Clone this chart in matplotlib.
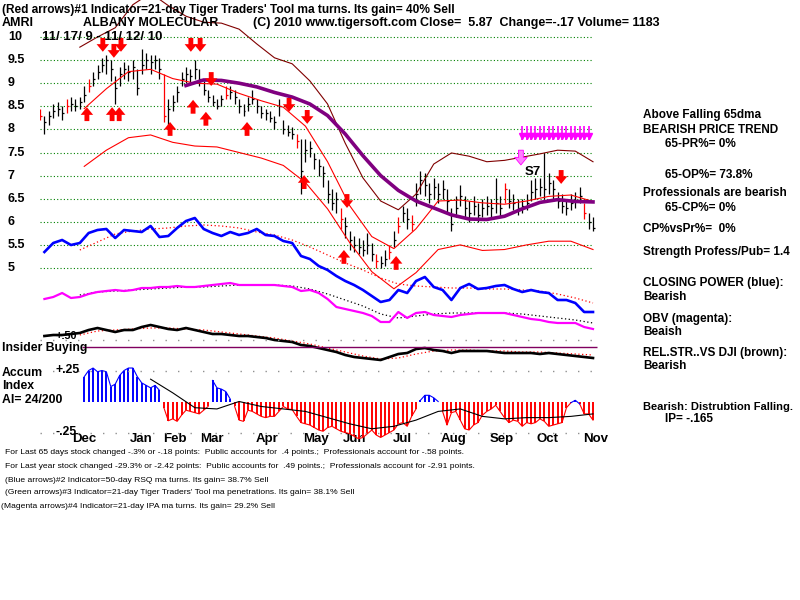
import numpy as np
import matplotlib.pyplot as plt
from matplotlib.transforms import blended_transform_factory

plt.rcParams['font.family'] = ['Liberation Sans', 'DejaVu Sans']

# price bars, one bar every 2 trading days, 11/17/09 .. 11/12/10
closes = [8.3, 8.15, 8.3, 8.4, 8.45, 8.35, 8.5, 8.55, 8.5, 8.6,
          8.75, 8.95, 9.1, 9.25, 9.4, 9.5, 9.3, 8.9, 9.2, 9.3,
          9.25, 9.35, 8.9, 9.4, 9.5, 9.45, 9.5, 9.3, 8.3, 8.45,
          8.6, 8.8, 9.1, 9.2, 9.15, 9.3, 9.1, 8.85, 8.7, 8.6,
          8.5, 8.65, 8.75, 8.8, 8.7, 8.5, 8.4, 8.55, 8.65, 8.5,
          8.35, 8.35, 8.25, 8.15, 8.5, 8.0, 7.95, 7.9, 7.75, 7.1,
          7.55, 7.6, 7.35, 7.2, 7.05, 6.6, 6.4, 6.5, 6.05, 5.9,
          5.6, 5.5, 5.45, 5.4, 5.5, 5.3, 5.15, 5.1, 5.2, 5.35,
          5.6, 5.9, 6.2, 6.05, 5.95, 6.6, 6.9, 6.8, 6.6, 6.75,
          6.6, 6.7, 6.45, 5.95, 6.3, 6.55, 6.3, 6.2, 6.35, 6.15,
          6.3, 6.35, 6.3, 6.4, 6.3, 6.7, 6.45, 6.4, 6.3, 6.35,
          6.4, 6.65, 6.7, 6.75, 6.7, 6.85, 6.7, 6.45, 6.35, 6.3,
          6.4, 6.45, 6.55, 6.2, 6.0, 5.87]
highs = [8.45, 8.3, 8.4, 8.55, 8.6, 8.5, 8.65, 8.7, 8.65, 8.7,
         8.95, 9.1, 9.25, 9.4, 9.55, 9.6, 9.5, 9.15, 9.35, 9.45,
         9.4, 9.5, 9.3, 9.75, 9.65, 9.6, 9.6, 9.55, 9.2, 8.65,
         8.75, 8.95, 9.25, 9.35, 9.3, 9.5, 9.3, 9.05, 8.85, 8.75,
         8.65, 8.75, 8.95, 8.95, 8.85, 8.65, 8.55, 8.7, 8.85, 8.65,
         8.5, 8.45, 8.4, 8.3, 8.65, 8.2, 8.1, 8.05, 7.9, 7.8,
         7.8, 7.75, 7.5, 7.35, 7.2, 6.9, 6.7, 6.65, 6.3, 6.1,
         5.8, 5.7, 5.65, 5.6, 5.75, 5.55, 5.3, 5.25, 5.4, 5.5,
         5.8, 6.1, 6.35, 6.3, 6.15, 6.85, 7.1, 7.05, 6.85, 6.95,
         6.85, 6.9, 6.7, 6.3, 6.55, 6.8, 6.55, 6.45, 6.55, 6.4,
         6.5, 6.55, 6.5, 6.95, 6.55, 6.85, 6.7, 6.6, 6.5, 6.5,
         6.6, 6.9, 6.95, 6.95, 7.5, 7.05, 6.9, 6.65, 6.6, 6.5,
         6.6, 6.65, 6.75, 6.4, 6.2, 6.1]
lows = [8.2, 7.9, 8.1, 8.25, 8.3, 8.2, 8.35, 8.4, 8.4, 8.45,
        8.6, 8.8, 8.95, 9.1, 9.25, 9.2, 9.05, 8.55, 8.95, 9.1,
        9.05, 9.1, 8.75, 9.2, 9.3, 9.2, 9.3, 9.1, 8.15, 8.1,
        8.4, 8.6, 8.95, 9.0, 9.0, 9.1, 8.95, 8.75, 8.6, 8.5,
        8.45, 8.5, 8.65, 8.65, 8.55, 8.35, 8.3, 8.4, 8.55, 8.35,
        8.25, 8.2, 8.15, 8.0, 8.3, 7.9, 7.85, 7.8, 7.6, 6.6,
        7.3, 7.4, 7.15, 7.0, 6.75, 6.4, 6.25, 6.2, 5.85, 5.65,
        5.4, 5.35, 5.3, 5.25, 5.3, 5.15, 5.0, 5.0, 5.05, 5.2,
        5.45, 5.75, 6.0, 5.85, 5.8, 6.35, 6.6, 6.55, 6.4, 6.5,
        6.4, 6.5, 6.2, 5.8, 6.1, 6.35, 6.1, 6.0, 6.15, 6.0,
        6.1, 6.15, 6.1, 6.2, 6.1, 6.4, 6.3, 6.25, 6.15, 6.2,
        6.25, 6.45, 6.5, 6.55, 6.5, 6.6, 6.45, 6.3, 6.2, 6.15,
        6.25, 6.3, 6.4, 6.05, 5.85, 5.8]
red_bars = [0, 6, 11, 28, 42, 58, 68, 76, 79, 81, 84, 105, 123]

# moving averages / bands on the price chart
ma21 = [8.45, 8.88, 9.25, 9.3, 9.1, 9.0, 8.98, 8.78, 8.62, 8.48, 8.07, 7.3,
        6.35, 5.68, 5.42, 5.85, 6.45, 6.47, 6.41, 6.38, 6.45, 6.55, 6.58, 6.44]
lower_band = [7.2, 7.55, 7.82, 7.88, 7.72, 7.64, 7.62, 7.5, 7.38, 7.22, 6.85, 6.28,
              5.55, 4.92, 4.55, 4.9, 5.4, 5.5, 5.38, 5.4, 5.5, 5.58, 5.58, 5.4]
upper_band = [9.78, 10.0, 10.2, 10.7, 10.95, 10.68, 10.45, 10.32, 10.3, 10.17,
              9.85, 9.55, 9.42, 9.05, 8.55, 7.7, 6.95, 6.45, 6.26, 6.6,
              7.25, 7.49, 7.42, 7.3, 7.33, 7.4, 7.47, 7.55, 7.53, 7.3]
ma65 = [8.95, 9.07, 9.06, 9.0, 8.92, 8.8, 8.7, 8.55, 8.3, 7.9, 7.43, 7.0,
        6.68, 6.45, 6.3, 6.15, 6.06, 6.05, 6.12, 6.28, 6.42, 6.48, 6.44, 6.43]

# signals: (bar, price at arrow tip)
sell_arrows = [(14.2, 9.68), (16.7, 9.55), (18.3, 9.68), (34.1, 9.68), (36.2, 9.68),
               (38.7, 8.94), (56.3, 8.38), (60.4, 8.12), (69.4, 6.3), (117.8, 6.82)]
buy_arrows = [(10.6, 8.48), (16.3, 8.48), (17.9, 8.48), (29.4, 8.16), (34.6, 8.64),
              (37.5, 8.38), (46.8, 8.16), (59.7, 7.01), (68.7, 5.39), (80.5, 5.26)]
ipa_signals = list(range(109, 125))

# indicators (relative units), sampled every 4 trading days
closing_power = [68, 77, 80, 75, 77, 87, 90, 91, 82, 90, 89, 88, 94, 83, 84, 92,
                 99, 102, 91, 87, 84, 88, 85, 87, 91, 85, 84, 79, 77, 64, 61, 54,
                 50, 44, 39, 35, 30, 24, 18, 20, 30, 27, 39, 43, 33, 30, 20, 32,
                 36, 31, 32, 34, 35, 31, 28, 30, 28, 27, 20, 20, 17, 8, 8]
obv = [41, 43, 47, 42, 43, 46, 48, 49, 50, 49, 50, 52, 52, 53, 53, 54, 53, 53,
       54, 55, 56, 57, 55, 55, 55, 55, 55, 54, 53, 49, 50, 47, 41, 33, 31, 29,
       27, 24, 18, 18, 28, 22, 27, 28, 25, 24, 23, 25, 26, 27, 27, 27, 27, 25,
       23, 21, 20, 18, 17, 17, 17, 13, 11]
rel_str = [34, 35, 35, 36, 37, 40, 42, 40, 38, 40, 40, 43, 45, 43, 41, 40, 42,
           40, 38, 36, 36, 35, 34, 34, 33, 32, 30, 29, 28, 25, 24, 22, 20, 18,
           15, 13, 12, 11, 10, 13, 16, 17, 21, 22, 20, 19, 17, 19, 19, 19, 19,
           18, 17, 17, 17, 17, 16, 17, 16, 15, 14, 13, 12]
cp_ma = [70, 78, 86, 89, 91, 92, 94, 95, 94, 92, 88, 85, 80, 73, 65, 57, 50, 42,
         36, 34, 33, 32, 32, 31, 31, 30, 29, 26, 22, 17]
obv_ma = [45, 48, 49, 50, 51, 52, 53, 53, 54, 55, 55, 55, 54, 51, 46, 40, 34, 26,
          22, 24, 26, 27, 27, 27, 27, 26, 24, 22, 20, 17]
rs_ma = [35, 39, 40, 41, 42, 42, 41, 40, 38, 36, 34, 32, 29, 26, 22, 18, 14, 11,
         12, 16, 19, 20, 20, 19, 19, 18, 18, 17, 16, 15]

# accumulation index, one value per bar from bar 10
accum = [.20, .25, .27, .24, .25, .24, .12, .14, .21, .25,
         .27, .27, .20, .15, .13, .11, .13, .09, -.05, -.155,
         -.14, -.16, -.11, -.07, -.08, -.09, -.10, -.07, -.04, .17,
         .11, .10, .08, .02, -.04, -.15, -.16, -.07, -.08, -.10,
         -.12, -.13, -.12, -.12, -.08, -.04, -.06, -.065, -.12, -.17,
         -.18, -.19, -.21, -.23, -.24, -.21, -.20, -.22, -.24, -.25,
         -.26, -.28, -.30, -.29, -.26, -.23, -.27, -.29, -.27, -.25,
         -.23, -.18, -.17, -.20, -.12, -.06, .01, .05, .05, .03,
         .0, -.08, -.19, -.09, -.08, -.15, -.22, -.23, -.19, -.17,
         -.11, -.08, -.06, -.03, -.08, -.13, -.17, -.15, -.16, -.20,
         -.17, -.18, -.17, -.14, -.16, -.20, -.19, -.18, -.17, -.05,
         -.01, .01, -.02, -.10, -.10, -.15]
accum_ma = [.18, .07, -.05, -.06, 0.0, -.04, -.06, -.08, -.13, -.18, -.22,
            -.2, -.15, -.08, -.06, -.12, -.14, -.13, -.13, -.12, -.10]

months = ['Dec', 'Jan', 'Feb', 'Mar', 'Apr', 'May', 'Jun', 'Jul', 'Aug', 'Sep', 'Oct', 'Nov']
month_pos = [7.2, 20.3, 27.8, 36.2, 48.8, 59.4, 68.5, 79.8, 90.6, 101.7, 112.3, 122.7]
price_ticks = [10, 9.5, 9, 8.5, 8, 7.5, 7, 6.5, 6, 5.5, 5]

W, H = 800, 600
fig = plt.figure(figsize=(8, 6), dpi=100)
fig.patch.set_facecolor('white')

def rect(x0, y0, x1, y1):
    return [x0 / W, 1 - y1 / H, (x1 - x0) / W, (y1 - y0) / H]

XLIM = (0, 560 / 4.424)
bar_x = np.arange(len(closes))
x4 = np.arange(1, 126, 2)
x_ma = np.arange(9, 126, 4)

# price panel
ax = fig.add_axes(rect(40, 0, 600, 345))
ax.set_xlim(XLIM)
ax.set_ylim(10 - 308 / 46.2, 10 + 37 / 46.2)
ax.axis('off')
ax.hlines(price_ticks, 0, 125, colors='#008000', linestyles=(0, (1, 2)), lw=0.8)
for t in price_ticks:
    ax.text(-32 / 4.424, t, f'{t:g}', ha='left', va='center', fontsize=9,
            fontweight='bold', clip_on=False)

bar_col = ['red' if i in red_bars else 'black' for i in bar_x]
ax.vlines(bar_x, lows, highs, colors=bar_col, lw=0.9, zorder=3)
ax.hlines(closes, bar_x, bar_x + 0.45, colors=bar_col, lw=0.9, zorder=3)

ax.plot(np.arange(10, 126, 5), ma21, color='red', lw=0.8, zorder=4)
ax.plot(np.arange(10, 126, 5), lower_band, color='red', lw=0.8, zorder=4)
ax.plot(x_ma, upper_band, color='#800000', lw=0.8, zorder=4)
ax.plot(np.arange(33, 126, 4), ma65, color='#800080', lw=2.6, zorder=4)

arrow_style = 'simple,head_length=0.55,head_width=0.9,tail_width=0.35'
for i, p in sell_arrows:
    ax.annotate('', xy=(i, p), xytext=(i, p + 0.3),
                arrowprops=dict(arrowstyle=arrow_style, fc='red', ec='red', lw=0,
                                mutation_scale=10, shrinkA=0, shrinkB=0), zorder=5)
for i, p in buy_arrows:
    ax.annotate('', xy=(i, p), xytext=(i, p - 0.3),
                arrowprops=dict(arrowstyle=arrow_style, fc='red', ec='red', lw=0,
                                mutation_scale=10, shrinkA=0, shrinkB=0), zorder=5)
ax.vlines(ipa_signals, 7.78, 8.08, colors='#ff00ff', lw=1.2, zorder=5)
ax.plot(ipa_signals, [7.86] * len(ipa_signals), color='#ff00ff', lw=1.2,
        marker='v', ms=4, zorder=5)
ax.annotate('', xy=(108.7, 7.23), xytext=(108.7, 7.55),
            arrowprops=dict(arrowstyle=arrow_style, fc='#ff80ff', ec='#ff00ff', lw=0.6,
                            mutation_scale=10, shrinkA=0, shrinkB=0), zorder=5)
ax.text(109.6, 7.08, 'S7', fontsize=9.5, fontweight='bold', ha='left', va='center')

# indicator overlays (closing power, OBV, relative strength)
def overlay(top):
    a = fig.add_axes(rect(40, 0, 600, 375))
    a.set_xlim(XLIM)
    a.set_ylim(top - 375, top)
    a.axis('off')
    a.patch.set_alpha(0)
    return a

ax_cp = overlay(320)
ax_cp.plot(x4, closing_power, color='#0000ff', lw=1.9, zorder=3)
ax_cp.plot(x_ma, cp_ma, color='red', lw=0.9, ls=(0, (1, 2)), zorder=2)
ax_obv = overlay(340)
ax_obv.plot(x4, obv, color='#ff00ff', lw=1.6, zorder=3)
ax_obv.plot(x_ma, obv_ma, color='black', lw=0.9, ls=(0, (1, 2)), zorder=2)
ax_rs = overlay(370)
ax_rs.plot(x4, rel_str, color='black', lw=1.9, zorder=3)
ax_rs.plot(x_ma, rs_ma, color='red', lw=0.9, ls=(0, (1, 2)), zorder=2)

# accumulation index panel
ax_ai = fig.add_axes(rect(40, 335, 600, 445))
ax_ai.set_xlim(XLIM)
ax_ai.set_ylim((401.5 - 445) / 124, (401.5 - 335) / 124)
ax_ai.axis('off')
ax_ai.patch.set_alpha(0)
ai_x = np.arange(10, 10 + len(accum))
ai = np.array(accum)
ax_ai.vlines(ai_x, 0, ai, colors=np.where(ai >= 0, '#0000ff', '#ff0000'), lw=1.4)
ax_ai.plot(ai_x, np.where(ai < 0, ai, np.nan), color='#ff0000', lw=0.8)
ax_ai.plot(ai_x, np.where(ai >= -0.02, ai, np.nan), color='#0000ff', lw=0.8)
ax_ai.plot(np.arange(25, 126, 5), accum_ma, color='black', lw=0.8, zorder=4)
ax_ai.hlines([0.5, 0.25, -0.25], 0, 125, colors='#909090', lw=1.0, linestyles=(0, (1, 8)))
ax_ai.hlines(0.44, 9.6, 126, colors='#800060', lw=1.0)

def label(x, y, s, size=8.6, bold=True, **kw):
    fig.text(x / W, 1 - y / H, s, fontsize=size, fontweight='bold' if bold else 'normal',
             va='center', ha='left', **kw)

tr = blended_transform_factory(ax_ai.transData, fig.transFigure)
for m, p in zip(months, month_pos):
    ax_ai.text(p, 1 - 439 / H, m, transform=tr, fontsize=9.5, fontweight='bold',
               ha='left', va='center', zorder=0)

label(2, 10, "(Red arrows)#1 Indicator=21-day Tiger Traders' Tool ma turns. Its gain= 40% Sell")
label(2, 23, 'AMRI', size=9)
label(83, 23, 'ALBANY MOLECULAR', size=9)
label(253, 23, '(C) 2010 www.tigersoft.com', size=9)
label(420, 23, 'Close=  5.87  Change=-.17 Volume= 1183', size=9)
label(42, 37, '11/ 17/ 9 - 11/ 12/ 10', size=9.5)

right = [(643, 115, 'Above Falling 65dma'), (643, 130, 'BEARISH PRICE TREND'),
         (665, 144, '65-PR%= 0%'), (665, 175, '65-OP%= 73.8%'),
         (643, 193, 'Professionals are bearish'), (665, 208, '65-CP%= 0%'),
         (643, 229, 'CP%vsPr%=  0%'), (643, 252, 'Strength Profess/Pub= 1.4'),
         (643, 283, 'CLOSING POWER (blue):'), (643, 297, 'Bearish'),
         (643, 319, 'OBV (magenta):'), (643, 332, 'Beaish'),
         (643, 353, 'REL.STR..VS DJI (brown):'), (643, 366, 'Bearish')]
for x, y, s in right:
    label(x, y, s, size=8.5)
label(643, 407, 'Bearish: Distrubtion Falling.', size=8.0)
label(665, 419, 'IP= -.165', size=8.5)

label(55, 336, '+.50', size=7.8)
label(2, 348, 'Insider Buying', size=8.8)
label(2, 373, 'Accum', size=8.8)
label(2, 386, 'Index', size=8.8)
label(2, 400, 'AI= 24/200', size=8.8)
label(55, 370, '+.25', size=8.8)
label(55, 432, '-.25', size=8.8)

bottom = [(5, 453, 'For Last 65 days stock changed -.3% or -.18 points:  Public accounts for  .4 points.;  Professionals account for -.58 points.'),
          (5, 466, 'For Last year stock changed -29.3% or -2.42 points:  Public accounts for  .49 points.;  Professionals account for -2.91 points.'),
          (5, 480, '(Blue arrows)#2 Indicator=50-day RSQ ma turns. Its gain= 38.7% Sell'),
          (5, 493, "(Green arrows)#3 Indicator=21-day Tiger Traders' Tool ma penetrations. Its gain= 38.1% Sell"),
          (1, 506, '(Magenta arrows)#4 Indicator=21-day IPA ma turns. Its gain= 29.2% Sell')]
for x, y, s in bottom:
    label(x, y, s, size=6.1, bold=False)

fig.savefig('out.png', dpi=100, facecolor='white')
